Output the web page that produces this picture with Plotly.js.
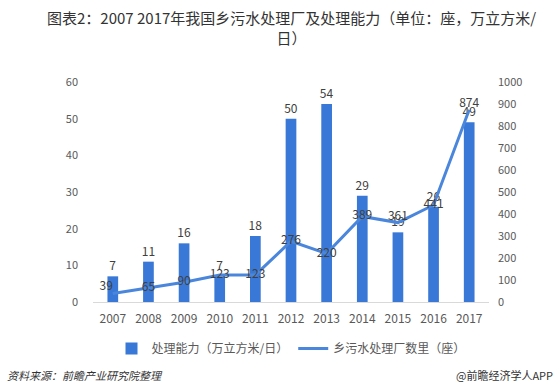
<!DOCTYPE html>
<html><head><meta charset="utf-8">
<script src="https://cdn.plot.ly/plotly-3.0.1.min.js"></script>
<style>html,body{margin:0;padding:0;background:#fff}#c{width:557px;height:384px}</style>
</head><body><div id="c"></div>
<script>
const years = ['2007','2008','2009','2010','2011','2012','2013','2014','2015','2016','2017'];
const capacity = [7, 11, 16, 7, 18, 50, 54, 29, 19, 26, 49];
const plants = [39, 65, 90, 123, 123, 276, 220, 389, 361, 441, 874];
const plantLabelPos = ['top left','middle center','middle center','middle center','middle center','middle center','middle center','middle center','top center','middle center','top center'];

const F = '"Noto Sans CJK SC","Noto Sans",sans-serif';
const data = [
  {type:'bar', x:years, y:capacity, name:'处理能力（万立方米/日）', marker:{color:'#3978d6'},
   text:capacity.map(String), textposition:'outside', cliponaxis:false, constraintext:'none',
   textfont:{size:12,color:'#404040',family:F}},
  {type:'scatter', mode:'lines+text', x:years, y:plants, yaxis:'y2', name:'乡污水处理厂数里（座）',
   line:{color:'#4a87dc',width:3}, text:plants.map(String), textposition:plantLabelPos,
   cliponaxis:false, textfont:{size:12,color:'#404040',family:F}}
];
const layout = {
  width:557, height:384, paper_bgcolor:'#fff', plot_bgcolor:'#fff',
  margin:{l:93,r:68,t:82,b:82},
  font:{family:F,color:'#595959',size:11},
  bargap:0.7, showlegend:true,
  xaxis:{type:'category', showline:true, linecolor:'#d9d9d9', linewidth:1, ticks:'', showgrid:false,
    ticklabelstandoff:6, tickfont:{size:12,color:'#595959'}},
  yaxis:{range:[0,60], dtick:10, showgrid:false, zeroline:false, showline:false, ticks:'',
    ticklabelstandoff:14, tickfont:{size:11,color:'#595959'}},
  yaxis2:{range:[0,1000], dtick:100, overlaying:'y', side:'right', showgrid:false, zeroline:false,
    showline:false, ticks:'', ticklabelstandoff:8, tickfont:{size:11,color:'#595959'}},
  legend:{orientation:'h', x:0.5, xanchor:'center', y:-0.145, yanchor:'top',
    font:{size:12,color:'#595959'}, itemwidth:30, traceorder:'normal'},
  annotations:[
    {xref:'paper', yref:'paper', x:0.5, y:1.352, xanchor:'center', yanchor:'top', showarrow:false,
     text:'图表2：2007 2017年我国乡污水处理厂及处理能力（单位：座，万立方米/<br>日）',
     font:{size:15,color:'#333',family:F}},
    {xref:'paper', yref:'paper', x:-0.222, y:-0.285, xanchor:'left', yanchor:'top', showarrow:false,
     text:'<i>资料来源：前瞻产业研究院整理</i>', font:{size:11,color:'#333'}},
    {xref:'paper', yref:'paper', x:1.167, y:-0.285, xanchor:'right', yanchor:'top', showarrow:false,
     text:'@前瞻经济学人APP', font:{size:11,color:'#333'}}
  ]
};
Plotly.newPlot('c', data, layout, {displayModeBar:false, staticPlot:true});
</script></body></html>
